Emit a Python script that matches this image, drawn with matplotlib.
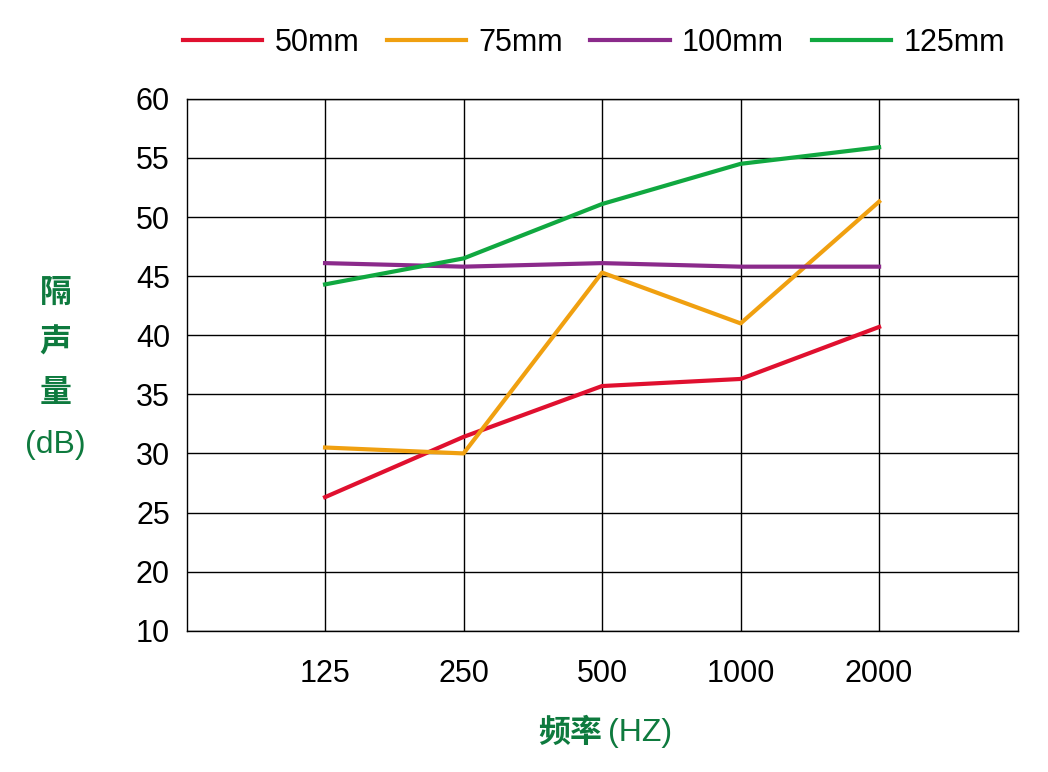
import matplotlib
matplotlib.use("Agg")
import matplotlib.pyplot as plt

categories = ["125", "250", "500", "1000", "2000"]
s50 = [26.3, 31.4, 35.7, 36.3, 40.7]
s75 = [30.5, 30.0, 45.3, 41.0, 51.3]
s100 = [46.1, 45.8, 46.1, 45.8, 45.8]
s125 = [44.3, 46.5, 51.1, 54.5, 55.9]
ytick_vals = [15, 20, 25, 30, 35, 40, 45, 50, 55, 60]
ytick_labels = ["10", "20", "25", "30", "35", "40", "45", "50", "55", "60"]

plt.rcParams["font.family"] = ["Noto Sans CJK SC"]
fig = plt.figure(figsize=(10.48, 7.72), dpi=100)
ax = fig.add_axes([0.178, 0.183, 0.793, 0.689])
x = list(range(len(categories)))
series = [("50mm", s50, "#e0102f"), ("75mm", s75, "#f0a010"),
          ("100mm", s100, "#8b2a8b"), ("125mm", s125, "#10a840")]
for name, v, c in series:
    ax.plot(x, v, color=c, lw=3, label=name)
ax.set_xlim(-1, 5)
ax.set_ylim(15, 60)
ax.set_xticks(x)
ax.set_xticklabels(categories, fontsize=22, fontfamily="Liberation Sans")
ax.set_yticks(ytick_vals)
ax.set_yticklabels(ytick_labels, fontsize=22, fontfamily="Liberation Sans")
ax.tick_params(length=0, pad=12)
ax.tick_params(axis="x", pad=20)
ax.grid(True, color="black", lw=1)
ax.set_axisbelow(True)
for sp in ax.spines.values():
    sp.set_linewidth(1)
fig.legend(loc="upper right", bbox_to_anchor=(0.985, 1.0), ncol=4, frameon=False,
           prop={"family": "Liberation Sans", "size": 22}, handlelength=2.6,
           columnspacing=0.9, handletextpad=0.4)
green = "#0e7a3e"
for i, ch in enumerate(["隔", "声", "量"]):
    fig.text(0.053, 0.621 - i * 0.065, ch, color=green, fontsize=23,
             fontweight="bold", ha="center", va="center")
fig.text(0.053, 0.424, "(dB)", color=green, fontsize=23, ha="center", va="center",
         fontfamily="Liberation Sans")
fig.text(0.575, 0.051, "频率", color=green, fontsize=23, fontweight="bold",
         ha="right", va="center")
fig.text(0.58, 0.051, "(HZ)", color=green, fontsize=23, ha="left", va="center",
         fontfamily="Liberation Sans")
fig.savefig("out.png", dpi=100)
